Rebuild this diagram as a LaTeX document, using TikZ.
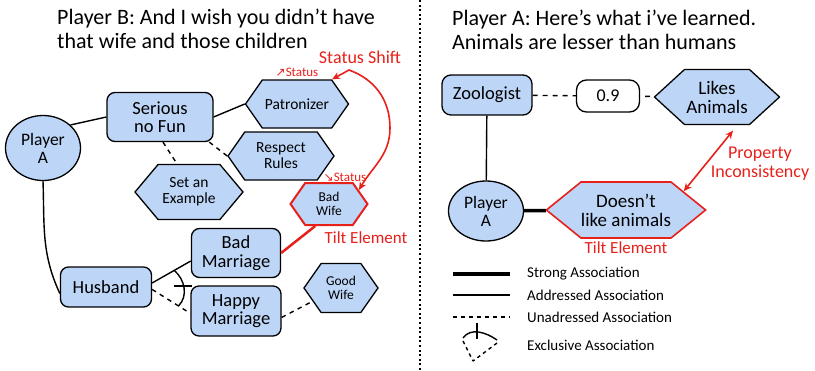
\documentclass[tikz,border=0pt]{standalone}
\usepackage{fontspec}
\setmainfont{Carlito}
\newfontfamily\arrowfont{DejaVu Sans}
\usetikzlibrary{arrows.meta, positioning, shapes.geometric, shapes.symbols}

\definecolor{conceptblue}{RGB}{189,214,247}
\definecolor{tiltred}{RGB}{232,32,26}

\begin{document}
\begin{tikzpicture}[
    x=1pt, y=-1pt,
    concept/.style={rectangle, draw, fill=conceptblue, rounded corners=8pt, line width=1.3pt,
                    align=center, inner sep=0pt, font=\fontsize{18.5}{18.5}\selectfont},
    trait/.style={signal, signal to=west and east, signal pointer angle=110, draw, fill=conceptblue,
                  line width=1.3pt, align=center, inner sep=0pt, font=\fontsize{15.5}{16}\selectfont},
    player/.style={ellipse, draw, fill=conceptblue, line width=1.3pt, align=center, inner sep=0pt,
                   font=\fontsize{17.5}{18}\selectfont},
    tilt/.style={draw=tiltred, line width=2pt},
    addressed/.style={line width=1.4pt},
    strong/.style={line width=3.5pt},
    unaddressed/.style={line width=1.4pt, dash pattern=on 4.5pt off 4.5pt},
    redlabel/.style={text=tiltred, align=center, inner sep=0pt, font=\fontsize{18}{19}\selectfont},
    statuslabel/.style={text=tiltred, inner sep=0pt, font=\fontsize{13}{14}\selectfont},
    legend/.style={anchor=west, inner sep=0pt, font=\fontsize{15}{16}\selectfont},
    title/.style={anchor=north west, align=left, inner sep=0pt, font=\fontsize{22}{24}\selectfont},
    shift arrow/.style={{Stealth[length=8pt,width=7pt]}-{Stealth[length=8pt,width=7pt]},
                        draw=tiltred, line width=1.6pt},
    divider/.style={line width=2pt, dash pattern=on 2pt off 2.6pt}
]
\useasboundingbox (0,0) rectangle (815,370);

% divider between the two panels
\coordinate (divtop) at (420,0);
\coordinate (divbottom) at (420,370);
\draw[divider] (divtop) -- (divbottom);

% ---- left panel ----
\node[title] (titleB) at (57,9) {Player B: And I wish you didn't have\\that wife and those children};

\node[player, minimum width=75pt, minimum height=65pt] (playerA) at (43,148) {Player\\A};
\node[concept, minimum width=106pt, minimum height=49pt] (serious) at (160,117) {Serious\\no Fun};
\node[trait, minimum width=103pt, minimum height=48pt] (patron) at (297,104) {Patronizer};
\node[trait, minimum width=106pt, minimum height=48pt] (respect) at (281,156) {Respect\\Rules};
\node[trait, minimum width=108pt, minimum height=55pt, signal pointer angle=100] (example) at (189,192) {Set an\\Example};
\node[trait, tilt, minimum width=77pt, minimum height=42pt, font=\fontsize{13.5}{14.5}\selectfont] (badwife) at (329,204) {Bad\\Wife};
\node[concept, minimum width=89pt, minimum height=49pt] (badmarriage) at (236,253) {Bad\\Marriage};
\node[concept, minimum width=90pt, minimum height=50pt] (happymarriage) at (236,311) {Happy\\Marriage};
\node[concept, minimum width=91pt, minimum height=40pt] (husband) at (106,287) {Husband};
\node[trait, minimum width=74pt, minimum height=49pt, font=\fontsize{13.5}{14.5}\selectfont] (goodwife) at (341,288) {Good\\Wife};

\node[statuslabel] (statusup) at (297,72) {{\arrowfont\fontsize{12}{12}\selectfont ↗}Status};
\node[statuslabel] (statusdown) at (345,177) {{\arrowfont\fontsize{12}{12}\selectfont ↘}Status};
\node[redlabel] (shiftlabel) at (360,57) {Status Shift};
\node[redlabel, font=\fontsize{17}{18}\selectfont] (tiltleft) at (366,238) {Tilt Element};

\draw[addressed] (playerA.40) -- (serious.west);
\draw[addressed] (serious.east) -- (patron.west);
\draw[unaddressed] (serious.-27) -- (respect.west);
\draw[unaddressed] ([xshift=3pt]serious.south) -- ([xshift=-12pt]example.north);
\draw[addressed] (playerA.south) to[out=-88, in=115] (husband.188);
\draw[addressed] (husband.5) -- coordinate[pos=0.57] (exA) (badmarriage.190);
\draw[unaddressed] (husband.-3) -- coordinate[pos=0.69] (exB) (happymarriage.183);
\draw[unaddressed] (happymarriage.-8) -- (goodwife.205);
\draw[addressed] (exA) to[out=-40, in=45] coordinate[pos=0.45] (exTick) (exB);
\draw[addressed] ([xshift=-10pt]exTick) -- ([xshift=8pt]exTick);
\draw[tilt, line width=2.5pt] (badmarriage.east) -- (badwife.-122);

\coordinate (shiftTop) at (349,70);
\coordinate (shiftSide) at (390,128);
\draw[shift arrow] (patron.north east) -- (shiftTop) to[out=-20, in=90] (shiftSide)
    to[out=-90, in=60] (badwife.25);

% ---- right panel ----
\node[title] (titleA) at (452,10) {Player A: Here's what i've learned.\\Animals are lesser than humans};

\node[concept, minimum width=90pt, minimum height=40pt, rounded corners=9pt] (zoologist) at (487,95) {Zoologist};
\node[rectangle, draw, fill=white, rounded corners=10pt, minimum width=63pt, minimum height=32pt,
      line width=1.3pt, inner sep=0pt, font=\fontsize{18}{18}\selectfont] (weight) at (608,96) {0.9};
\node[trait, minimum width=125pt, minimum height=55pt, signal pointer angle=85,
      font=\fontsize{19}{19}\selectfont] (likes) at (717,97) {Likes\\Animals};
\node[player, minimum width=75pt, minimum height=60pt] (playerAright) at (486,211) {Player\\A};
\node[trait, tilt, line width=1.6pt, minimum width=157pt, minimum height=56pt, signal pointer angle=78,
      font=\fontsize{19}{19}\selectfont] (dislikes) at (626,210) {Doesn't\\like animals};
\node[redlabel, font=\fontsize{17}{18}\selectfont, below=3pt of dislikes] (tiltright) {Tilt Element};
\node[redlabel] (inconsistency) at (760,164) {Property\\Inconsistency};

\draw[unaddressed, dash pattern=on 5pt off 5pt] (zoologist) -- (weight);
\draw[unaddressed, dash pattern=on 5pt off 5pt, dash phase=5pt] (weight) -- (likes);
\draw[addressed] (zoologist) -- (playerAright);
\draw[strong] (playerAright) -- (dislikes);
\draw[shift arrow, shorten >=7pt] (dislikes.18) -- (likes.-54);

% legend
\node[legend] (strongtxt) at (527,274) {Strong Association};
\node[legend] (addressedtxt) at (527,295) {Addressed Association};
\node[legend] (unaddressedtxt) at (527,317) {Unadressed Association};
\node[legend] (exclusivetxt) at (527,345) {Exclusive Association};

\draw[strong] ([xshift=-74pt]strongtxt.west) -- ([xshift=-17pt]strongtxt.west);
\draw[addressed] ([xshift=-74pt]addressedtxt.west) -- ([xshift=-17pt]addressedtxt.west);
\draw[unaddressed, dash pattern=on 3.5pt off 4.5pt] ([xshift=-74pt]unaddressedtxt.west) -- ([xshift=-17pt]unaddressedtxt.west);

\coordinate (exlegApex) at (473,361);
\coordinate (exlegLeft) at (463,341);
\coordinate (exlegRight) at (497,343);
\draw[unaddressed, dash pattern=on 3.5pt off 3.5pt] (exlegLeft) -- (exlegApex);
\draw[unaddressed, dash pattern=on 3.5pt off 3.5pt] (exlegRight) -- (exlegApex);
\draw[addressed] ([yshift=3pt]exlegLeft) to[out=55, in=145] coordinate[pos=0.45] (exlegTick) ([yshift=3pt]exlegRight);
\draw[addressed] ([yshift=-7pt]exlegTick) -- ([yshift=9pt]exlegTick);
\end{tikzpicture}
\end{document}
